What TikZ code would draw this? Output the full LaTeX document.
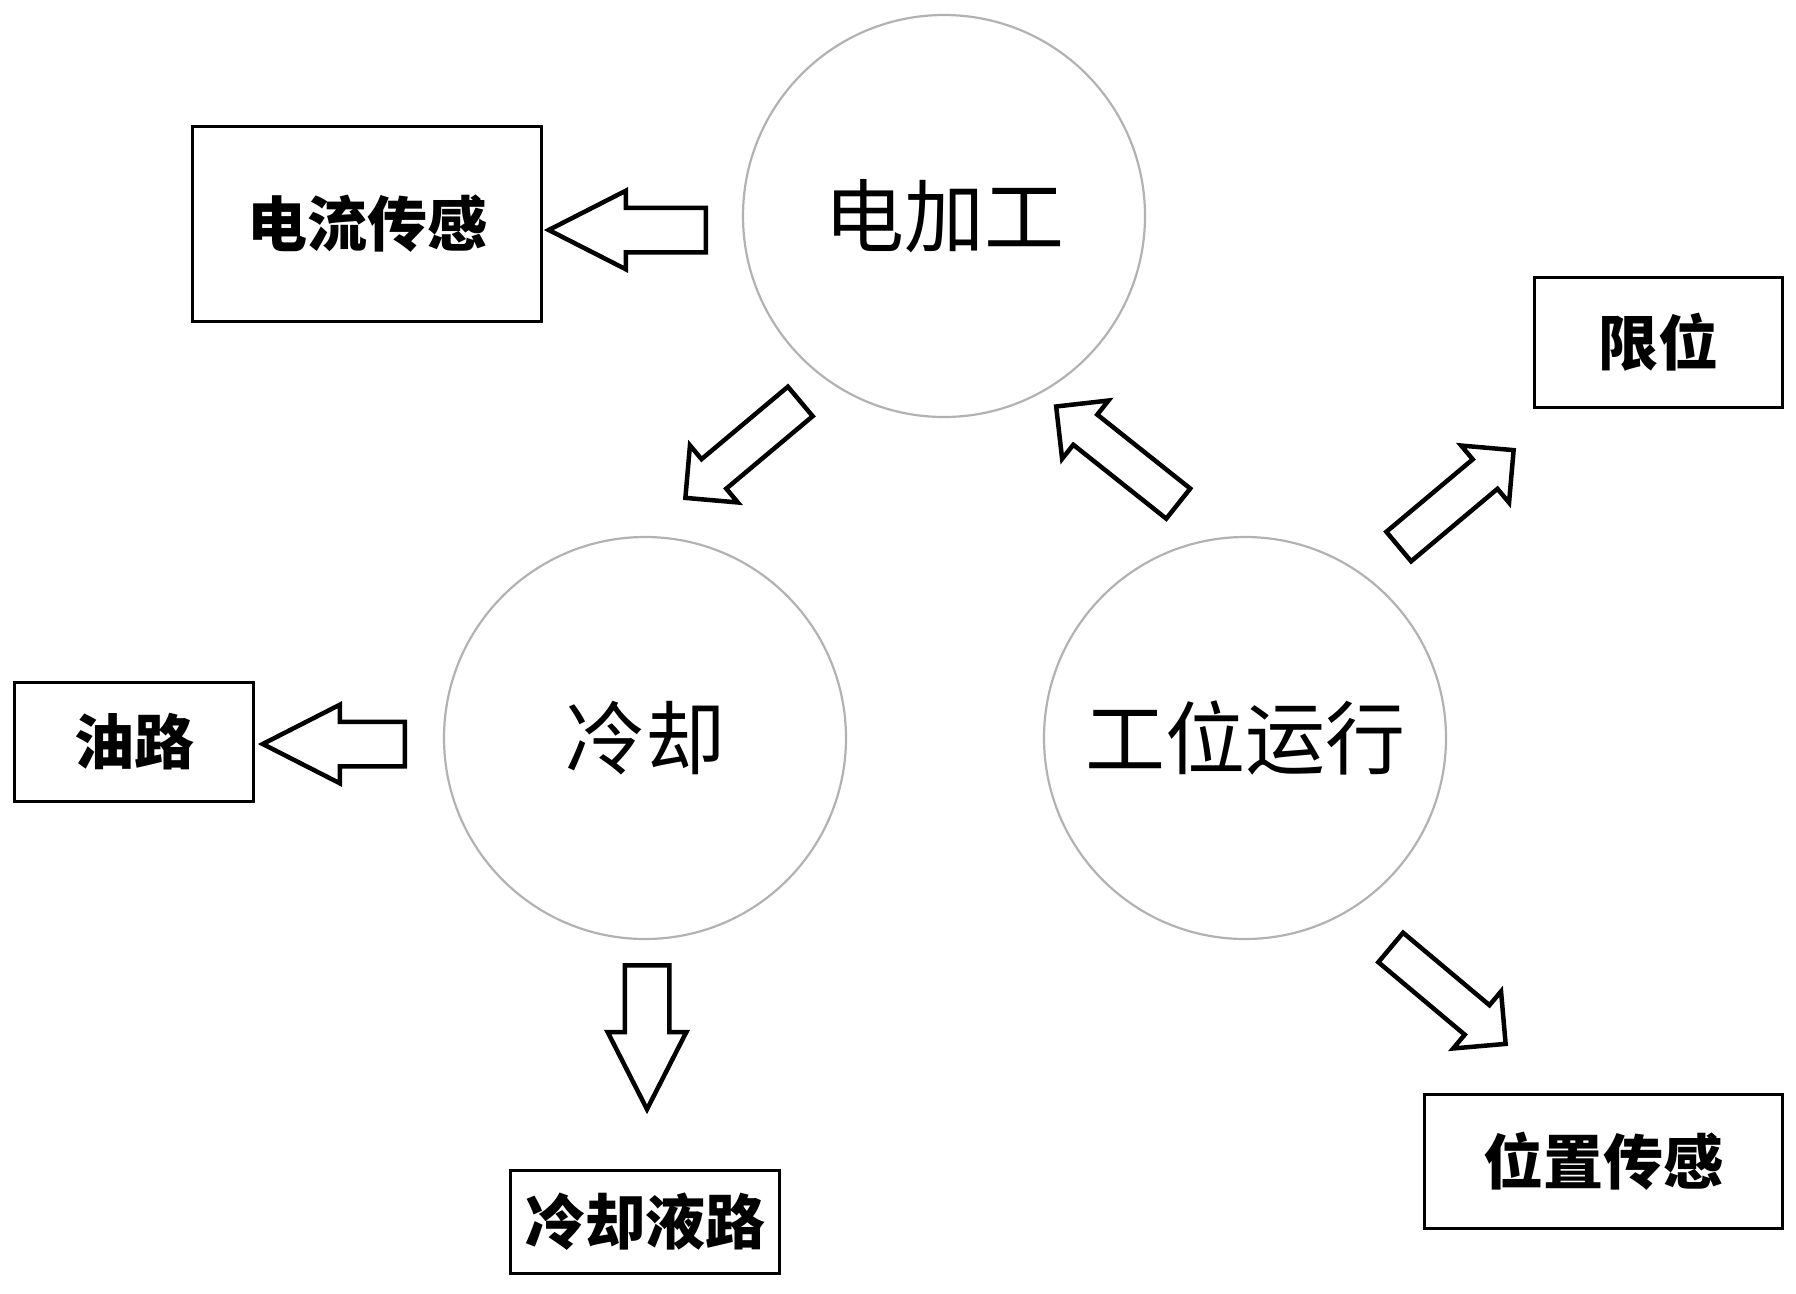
\documentclass[tikz,border=0pt]{standalone}
\usepackage{fontspec}
\newfontfamily\cjk{Noto Sans CJK SC}
\usetikzlibrary{shapes.arrows}

\tikzset{
  station/.style={circle, draw=gray!60, line width=2.2pt, minimum size=402pt, inner sep=0pt,
    font=\cjk\fontsize{80}{90}\selectfont},
  sensor/.style={draw=black, line width=3pt, inner sep=0pt,
    font=\cjk\bfseries\fontsize{60}{70}\selectfont},
  fatarrow/.style={single arrow, draw=black, line width=4.5pt, inner xsep=0pt, inner ysep=20pt,
    single arrow head extend=17pt, single arrow tip angle=54,
    minimum height=#1, anchor=tail},
  slantarrow/.style={single arrow, draw=black, line width=4.5pt, inner xsep=0pt, inner ysep=17pt,
    single arrow head extend=18pt, single arrow tip angle=90,
    minimum height=#1, anchor=tail}
}

\begin{document}
\begin{tikzpicture}[x=1pt, y=-1pt]

\useasboundingbox (0,0) rectangle (1796,1293);

%
% Three stations
%
\path
(944,216) node [station] (edm) {电加工};

\path
(645,738) node [station] (cool) {冷却};

\path
(1245,738) node [station] (run) {工位运行};


%
% Sensor boxes
%
\path
(367,224) node [sensor, minimum width=349pt, minimum height=195pt] (current) {电流传感};

\path
(1658,342) node [sensor, minimum width=248pt, minimum height=130pt] (limit) {限位};

\path
(134,742) node [sensor, minimum width=239pt, minimum height=119pt] (oil) {油路};

\path
(645,1222) node [sensor, minimum width=269pt, minimum height=103pt] (coolant) {冷却液路};

\path
(1603,1161) node [sensor, minimum width=358pt, minimum height=134pt] (position) {位置传感};


%
% Block arrows (placed by their tail)
%

% edm to current sensor
\path
(708,230) node [fatarrow=157pt, rotate=180] (edm-current) {};

% cool to oil
\path
(407,744) node [fatarrow=142pt, rotate=180] (cool-oil) {};

% cool to coolant
\path
(647,963) node [fatarrow=144pt, rotate=-90] (cool-coolant) {};

% edm to cool
\path
(802,400) node [slantarrow=150pt, rotate=-140] (edm-cool) {};

% run to edm
\path
(1180,505) node [slantarrow=156pt, rotate=141.5] (run-edm) {};

% run to limit
\path
(1397,548) node [slantarrow=150pt, rotate=40] (run-limit) {};

% run to position
\path
(1389,946) node [slantarrow=150pt, rotate=-40] (run-position) {};

\end{tikzpicture}
\end{document}
